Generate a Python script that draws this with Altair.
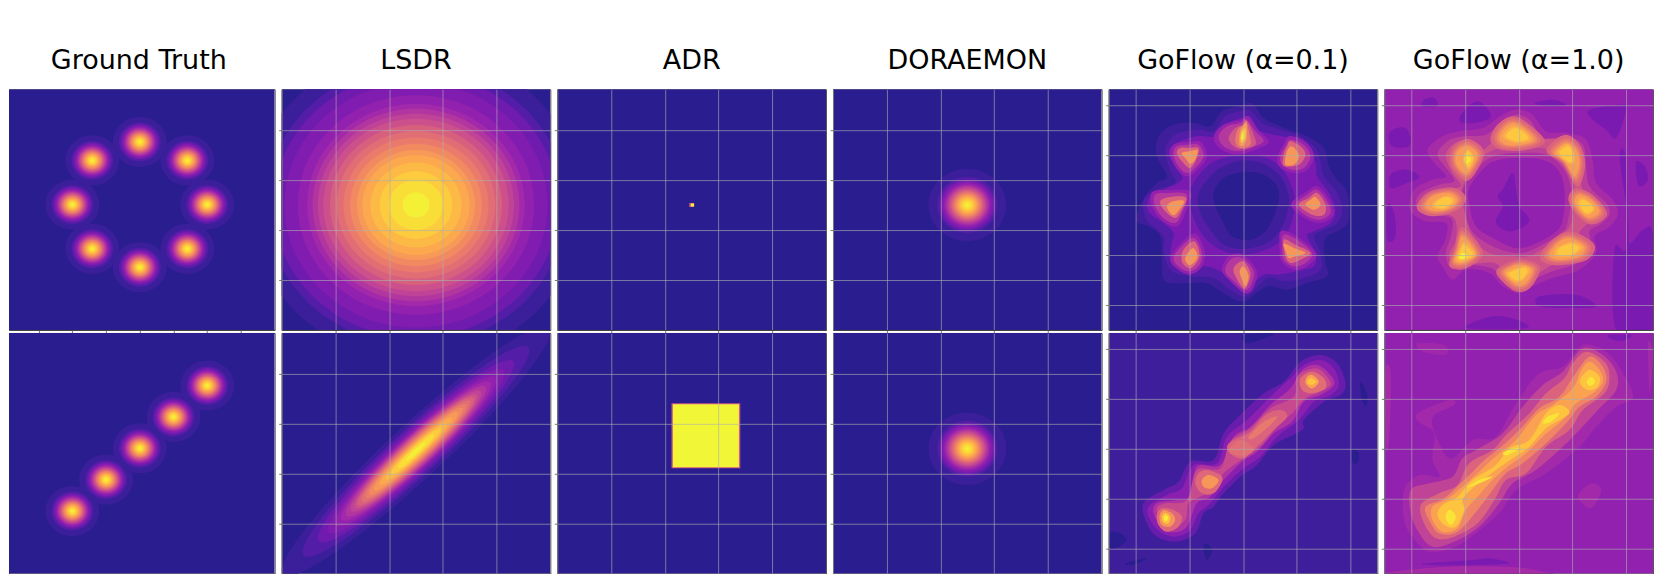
import altair as alt
import pandas as pd

TITLES = ["Ground Truth", "LSDR", "ADR", "DORAEMON", "GoFlow (α=0.1)", "GoFlow (α=1.0)"]
STOPS = ["#291d8f", "#541da7", "#7a1ab1", "#9a25ad", "#b93f9b", "#d15985",
         "#e47472", "#f3905d", "#fcaf4a", "#fcd33b", "#f1f737"]
STOP_POS = [0, .1, .2, .3, .4, .5, .6, .7, .8, .9, 1]

UNIT_RING = [(1, 0), (.924, .383), (.707, .707), (.383, .924), (0, 1), (-.383, .924), (-.707, .707), (-.924, .383),
             (-1, 0), (-.924, -.383), (-.707, -.707), (-.383, -.924), (0, -1), (.383, -.924), (.707, -.707), (.924, -.383)]

LEVELS = [.04, .1, .17, .22, .27, .32, .37, .42, .47, .53, .58, .63, .68, .73, .78, .83, .88, .93, .98]
GT_R = [.80, .62, .56, .52, .48, .45, .42, .39, .36, .33, .30, .28, .25, .22, .19, .16, .13, .09, .05]
DOR_R = [1.45, 1.12, 1.02, .95, .88, .82, .77, .71, .66, .6, .55, .5, .45, .4, .35, .29, .23, .16, .08]
LSDR_R = [6.2, 5.6, 5.3, 4.9, 4.4, 4.05, 3.85, 3.65, 3.45, 3.2, 2.95, 2.7, 2.45, 2.2, 2.0, 1.7, 1.35, 1.0, .5]
LSDR_A = [7.0, 5.9, 5.1, 4.6, 4.2, 3.9, 3.65, 3.4, 3.2, 3.05, 2.85, 2.65, 2.45, 2.2, 1.9, 1.6, 1.3, .95, .5]
LSDR_B = [1.05, .9, .8, .72, .66, .62, .58, .54, .5, .46, .42, .38, .34, .3, .26, .22, .18, .13, .07]

GT_RING = [(2, 0), (1.41, 1.41), (0, 2), (-1.41, 1.41), (-2, 0), (-1.41, -1.41), (0, -2), (1.41, -1.41)]
GT_LINE = [(-2, -2), (-1, -1), (0, 0), (1, 1), (2, 2)]

ADR_RECTS_1 = [(-.09, .09, -.08, .08, .5), (-.03, .09, -.06, .06, 1)]
ADR_RECTS_2 = [(-.75, 1.81, -.78, 1.82, .5), (-.70, 1.76, -.74, 1.78, 1)]

# GoFlow contours: 80.4 units per x unit, 75 per y unit, about the plot centre.
GF1_TOP = [
 (.05, [(435,40),(470,85),(510,105),(550,122),(600,140),(650,175),(665,230),(685,265),(720,310),(725,390),(700,420),(660,440),(650,470),(655,520),(660,560),(600,580),(540,600),(480,590),(410,635),(350,610),(300,580),(250,580),(175,575),(165,510),(160,440),(125,410),(88,390),(115,320),(150,280),(180,260),(150,200),(155,140),(200,105),(265,100),(310,110),(345,65),(395,50)]),
 (.1, [(430,62),(465,100),(520,120),(570,135),(620,170),(640,215),(650,260),(690,310),(705,360),(690,400),(650,420),(620,440),(640,490),(640,540),(590,565),(530,575),(480,565),(420,620),(370,600),(320,565),(250,560),(190,540),(170,480),(170,440),(120,390),(110,330),(150,300),(205,280),(190,240),(175,180),(205,135),(270,120),(320,125),(355,80),(400,65)]),
 (.2, [(425,85),(450,120),(500,135),(550,145),(600,170),(625,220),(630,260),(665,310),(685,360),(670,400),(620,425),(600,440),(625,490),(620,530),(570,545),(510,555),(470,555),(415,600),(380,585),(340,545),(290,530),(225,540),(190,510),(195,460),(200,430),(170,400),(125,365),(130,320),(170,300),(225,270),(210,235),(185,190),(210,160),(270,140),(330,140),(365,100),(405,85)]),
 (.11, [(410,195),(480,205),(530,245),(560,310),(560,370),(540,430),(490,475),(410,495),(340,480),(290,440),(255,370),(250,300),(300,230),(350,205)]),
 (.05, [(410,212),(470,222),(520,260),(545,320),(540,370),(520,420),(480,460),(410,478),(350,465),(310,420),(280,370),(275,310),(320,250),(360,225)]),
 (0, [(410,247),(470,255),(510,290),(515,330),(500,380),(475,425),(430,450),(375,440),(345,390),(325,350),(320,310),(350,265)]),
]

GF1_TOP_PEAKS = [
 (.38, [(420,90),(445,125),(470,155),(430,175),(390,185),(350,170),(335,140),(360,110),(400,100)]),
 (.5, [(418,92),(438,130),(445,165),(405,178),(380,170),(365,145),(385,115),(408,105)]),
 (.62, [(418,95),(428,135),(430,165),(400,175),(385,155),(392,120),(410,105)]),
 (.74, [(418,100),(420,140),(412,165),(398,165),(398,130),(408,108)]),
 (.87, [(414,115),(415,145),(405,160),(400,145),(405,125)]),
 (.98, [(412,122),(412,145),(405,150),(405,135)]),
 (.38, [(550,150),(590,165),(610,200),(590,235),(555,240),(525,225),(520,200),(535,170)]),
 (.55, [(550,155),(580,170),(595,195),(575,225),(530,228),(530,195),(540,170)]),
 (.72, [(552,170),(570,185),(575,205),(560,225),(535,225),(538,190)]),
 (.38, [(275,165),(290,200),(265,235),(240,250),(215,230),(200,195),(210,170),(245,165)]),
 (.55, [(275,175),(270,205),(250,235),(225,215),(210,190),(220,175),(248,175)]),
 (.72, [(272,182),(265,210),(250,222),(235,205),(225,190),(250,185)]),
 (.38, [(240,315),(225,370),(205,400),(170,385),(145,350),(145,315),(185,310)]),
 (.55, [(238,325),(222,365),(205,385),(175,365),(160,335),(190,322)]),
 (.72, [(232,335),(210,370),(195,375),(180,350),(200,335)]),
 (.38, [(630,300),(660,335),(670,370),(640,390),(600,380),(565,345),(600,315)]),
 (.55, [(630,310),(655,345),(650,375),(615,375),(575,345),(605,325)]),
 (.72, [(625,322),(640,345),(620,360),(595,345),(610,330)]),
 (.38, [(530,435),(570,450),(615,490),(595,520),(560,530),(530,510),(525,470)]),
 (.55, [(530,450),(565,465),(610,490),(580,510),(550,520),(535,500)]),
 (.72, [(530,462),(560,475),(595,490),(565,500),(545,505),(535,485)]),
 (.38, [(262,445),(285,490),(275,530),(245,545),(215,530),(200,505),(225,470)]),
 (.55, [(262,455),(278,495),(265,525),(245,535),(225,515),(230,480)]),
 (.72, [(258,475),(272,500),(260,520),(245,525),(235,505)]),
 (.38, [(405,505),(440,545),(430,590),(410,600),(380,575),(355,545),(370,510)]),
 (.55, [(407,515),(430,550),(420,590),(408,595),(388,565),(380,535)]),
 (.72, [(410,530),(425,560),(415,590),(405,570),(398,545)]),
]

GF2_TOP = [
 (.2, [(25,125),(70,115),(85,160),(60,175),(25,165)]),
 (.2, [(25,255),(70,240),(112,262),(60,285),(25,295)]),
 (.2, [(125,30),(155,25),(165,50),(120,50)]),
 (.2, [(235,75),(285,35),(325,75),(300,95),(240,100)]),
 (.2, [(620,60),(720,45),(730,60),(700,145),(670,120),(630,90)]),
 (.2, [(760,215),(785,230),(795,270),(770,290),(760,260)]),
 (.2, [(455,40),(510,30),(550,45),(500,50)]),
 (.2, [(470,620),(580,615),(640,650),(560,655),(470,650)]),
 (.2, [(710,200),(730,210),(730,470),(695,480),(700,720),(810,720),(810,440),(780,420),(740,460),(735,380)]),
 (.2, [(250,715),(330,680),(400,690),(430,715)]),
 (.2, [(15,345),(35,370),(40,440),(15,450)]),
 (.33, [(410,60),(450,75),(490,125),(550,130),(610,150),(630,215),(640,280),(690,330),(705,375),(675,415),(635,440),(640,490),(590,540),(510,565),(450,590),(410,612),(360,590),(320,550),(250,540),(210,570),(180,530),(165,500),(190,445),(190,400),(130,395),(82,360),(95,300),(150,270),(190,260),(155,220),(135,180),(180,140),(230,125),(300,115),(345,85),(380,65)]),
 (.4, [(410,75),(445,95),(480,145),(550,140),(600,165),(610,225),(620,290),(670,340),(680,375),(650,405),(620,425),(625,480),(585,520),(510,545),(450,570),(410,590),(365,570),(325,535),(250,525),(205,535),(190,490),(205,440),(205,385),(130,375),(100,345),(115,310),(170,285),(215,275),(195,240),(165,195),(195,155),(240,140),(310,135),(350,100),(385,80)]),
 (.48, [(410,90),(440,110),(470,145),(550,150),(590,175),(595,230),(600,300),(650,340),(660,375),(625,395),(590,430),(610,480),(570,510),(510,525),(460,555),(410,575),(370,555),(335,520),(250,525),(215,525),(200,495),(220,450),(215,385),(150,365),(115,345),(130,320),(180,300),(235,290),(210,250),(190,200),(210,165),(250,155),(290,185),(330,155),(360,105),(385,95)]),
 (.41, [(410,175),(500,180),(555,230),(575,310),(565,400),(530,440),(450,495),(390,500),(320,490),(270,440),(240,340),(240,290),(290,210),(350,175)]),
 (.34, [(410,190),(490,195),(540,235),(565,300),(555,395),(535,430),(450,480),(400,490),(330,470),(265,420),(245,340),(245,290),(300,220),(350,195)]),
 (.27, [(410,205),(480,210),(525,240),(545,300),(540,390),(515,430),(450,465),(400,475),(340,450),(280,410),(260,340),(260,295),(310,230),(350,210)]),
 (.2, [(390,250),(360,300),(345,320),(360,350),(340,400),(385,425),(440,395),(410,350),(400,300)]),
]

GF2_TOP_PEAKS = [
 (.74, [(395,100),(430,120),(455,150),(420,165),(370,165),(350,145),(365,115)]),
 (.74, [(550,160),(580,180),(590,220),(575,260),(545,215),(515,190)]),
 (.74, [(255,170),(285,195),(265,240),(245,250),(220,220),(225,185)]),
 (.74, [(200,310),(225,330),(205,355),(160,365),(130,350),(150,320)]),
 (.74, [(590,315),(625,330),(650,365),(620,385),(590,365),(575,335)]),
 (.74, [(560,445),(605,470),(590,500),(530,510),(500,495),(525,460)]),
 (.74, [(240,440),(280,490),(245,520),(215,515),(225,480)]),
 (.74, [(420,525),(450,540),(430,580),(400,585),(365,550),(390,530)]),
 (.87, [(395,115),(425,130),(435,148),(400,155),(370,140)]),
 (.87, [(555,170),(570,190),(570,215),(555,215),(530,190)]),
 (.87, [(255,185),(272,205),(258,232),(245,210)]),
 (.87, [(195,322),(210,335),(185,355),(155,348),(170,330)]),
 (.87, [(600,330),(625,345),(630,360),(610,370),(590,345)]),
 (.87, [(565,462),(590,475),(565,495),(525,495),(530,475)]),
 (.87, [(245,465),(272,495),(240,512),(225,505),(232,485)]),
 (.87, [(420,535),(435,545),(415,570),(395,570),(380,550)]),
 (.98, [(240,490),(255,498),(240,508),(228,503)]),
 (.95, [(255,195),(265,210),(252,222),(248,205)]),
]

GF1_BOT = [
 (0, [(10,600),(35,598),(60,620),(25,645),(8,640)]),
 (0, [(295,630),(315,650),(300,680),(290,650)]),
 (0, [(55,690),(120,675),(80,695)]),
 (0, [(410,5),(500,0),(470,15),(420,30)]),
 (0, [(735,350),(755,360),(750,390),(735,385)]),
 (0, [(760,145),(780,185),(775,220),(762,190)]),
 (.15, [(640,65),(690,90),(715,150),(700,185),(650,205),(590,260),(585,290),(500,335),(450,395),(400,430),(350,480),(320,520),(290,540),(265,600),(210,625),(150,610),(120,570),(110,510),(170,470),(215,445),(250,385),(320,380),(350,300),(400,245),(470,180),(530,145),(580,85)]),
 (.25, [(640,80),(680,105),(695,155),(670,185),(620,205),(575,260),(510,310),(460,370),(410,405),(350,460),(310,510),(275,540),(250,590),(205,610),(160,595),(130,560),(125,520),(180,485),(225,465),(260,395),(330,390),(360,310),(420,260),(490,190),(550,135),(590,95)]),
 (.36, [(630,95),(670,125),(680,155),(640,185),(590,205),(555,265),(500,300),(450,355),(405,385),(350,440),(310,490),(270,510),(240,580),(195,597),(165,580),(140,540),(150,510),(210,500),(250,490),(270,400),(340,395),(380,310),(430,280),(490,215),(550,165),(585,110)]),
 (.45, [(625,105),(660,130),(670,155),(640,175),(595,195),(555,240),(510,280),(460,340),(410,375),(350,420),(320,470),(280,490),(245,510),(235,560),(190,585),(160,560),(150,525),(175,510),(240,500),(270,410),(340,405),(370,325),(430,285),(490,225),(560,190),(570,130)]),
 (.58, [(615,115),(650,135),(655,165),(615,180),(585,170),(580,135)]),
 (.76, [(615,125),(635,145),(615,165),(595,150),(600,130)]),
 (.86, [(610,135),(628,145),(612,155),(600,147)]),
 (.54, [(520,230),(540,250),(500,290),(450,340),(410,375),(375,365),(360,340),(380,320),(430,295),(475,245)]),
 (.62, [(510,250),(490,275),(440,315),(425,310),(470,265)]),
 (.58, [(400,320),(440,345),(420,365),(385,365),(365,350)]),
 (.56, [(300,410),(340,425),(345,445),(320,480),(285,480),(265,450),(275,420)]),
 (.72, [(305,425),(335,440),(315,465),(290,460),(285,440)]),
 (.56, [(165,525),(200,530),(225,550),(215,580),(180,595),(155,575),(150,545)]),
 (.72, [(170,530),(195,540),(205,560),(190,580),(165,575),(158,550)]),
 (.86, [(175,538),(190,550),(185,570),(170,568),(165,550)]),
 (.98, [(175,545),(184,552),(180,562),(172,560)]),
]

GF2_BOT = [
 (.2, [(675,5),(745,5),(720,22),(690,18)]),
 (.2, [(130,690),(270,680),(320,675),(380,690),(290,695),(140,695)]),
 (.33, [(10,100),(25,120),(22,300),(12,350),(8,200)]),
 (.33, [(30,715),(200,700),(400,702),(480,715),(480,722),(30,722)]),
 (.31, [(105,30),(185,35),(190,65),(120,55)]),
 (.32, [(625,450),(655,470),(625,525),(585,490)]),
 (.32, [(795,30),(810,60),(800,180)]),
 (.32, [(600,35),(670,55),(715,110),(750,190),(700,220),(640,280),(590,340),(490,420),(400,470),(350,540),(280,600),(220,640),(140,655),(90,610),(65,560),(65,470),(110,425),(170,430),(150,380),(155,300),(115,270),(105,240),(200,200),(215,215),(150,255),(175,340),(210,375),(270,320),(340,310),(400,210),(470,120),(540,100)]),
 (.42, [(600,45),(660,65),(700,115),(700,170),(650,225),(590,290),(540,340),(460,410),(390,450),(350,510),(290,580),(215,625),(150,640),(110,600),(85,540),(85,470),(140,450),(210,430),(240,375),(290,345),(360,300),(420,220),(480,155),(540,115)]),
 (.54, [(610,55),(665,85),(680,130),(665,180),(600,230),(560,290),(490,340),(430,420),(370,440),(335,500),(285,570),(215,610),(160,615),(125,570),(115,515),(170,480),(225,455),(260,390),(330,350),(370,305),(440,240),(490,180),(545,135),(570,90)]),
 (.66, [(620,70),(660,100),(670,145),(640,190),(590,220),(550,270),(490,330),(420,390),(370,420),(330,470),(285,530),(225,595),(170,600),(140,560),(130,520),(185,495),(250,435),(300,385),(350,345),(410,290),(470,225),(530,190),(575,125)]),
 (.76, [(620,85),(650,110),(660,145),(630,180),(580,210),(545,255),(480,310),(430,360),(375,400),(330,440),(285,490),(250,530),(225,585),(180,595),(150,560),(150,520),(190,500),(240,460),(290,415),(350,360),(400,320),(460,245),(510,215),(570,165),(595,110)]),
 (.86, [(625,110),(650,130),(645,160),(615,170),(590,145),(610,115)]),
 (.86, [(560,235),(540,255),(490,285),(440,340),(390,375),(340,410),(270,465),(240,500),(245,530),(220,580),(185,575),(165,545),(180,515),(225,490),(270,440),(340,395),(380,345),(440,320),(490,240),(530,215)]),
 (.95, [(625,130),(637,145),(622,158),(612,145)]),
 (.95, [(530,240),(505,265),(480,270),(495,250)]),
 (.95, [(410,345),(375,365),(360,360),(385,347)]),
 (.95, [(330,430),(290,450),(255,462),(290,440)]),
 (.95, [(205,530),(220,550),(205,575),(190,555),(195,535)]),
]


def rings(centers, levels, rad):
    out = []
    for i, lv in enumerate(levels):
        for cx, cy in centers:
            out.append((lv, [(cx + rad[i] * u, cy + rad[i] * v) for u, v in UNIT_RING]))
    return out


def diagonal(levels, a, b, cx, cy):
    out = []
    for i, lv in enumerate(levels):
        out.append((lv, [(cx + (a[i] * u - b[i] * v) * .7071, cy + (a[i] * u + b[i] * v) * .7071) for u, v in UNIT_RING]))
    return out


def halo(shapes, source_level, level, factor):
    """A wider band round each digitised peak of a given level."""
    out = []
    for lv, pts in shapes:
        if lv == source_level:
            mx = sum(p[0] for p in pts) / len(pts)
            my = sum(p[1] for p in pts) / len(pts)
            out.append((level, [(mx + (px - mx) * factor, my + (py - my) * factor) for px, py in pts]))
    return out


def digitised(shapes):
    return [(lv, [((px - 408) / 80.4, (346 - py) / 75) for px, py in pts]) for lv, pts in shapes]


def frame(shapes):
    rows = []
    for s, (lv, pts) in enumerate(shapes):
        for p, (x, y) in enumerate(pts):
            rows.append({"x": round(x, 3), "y": round(y, 3), "level": lv, "shape": s, "pt": p})
    return pd.DataFrame(rows)


def panel(xdom, ticks_x, ticks_y, bg, shapes=None, rects=None, title=None, grid=True, width=269, left_axis=True, dx=0):
    fill = alt.Fill("level:Q", scale=alt.Scale(domain=STOP_POS, range=STOPS), legend=None)
    ax_x = alt.Axis(values=ticks_x, labels=False, title=None, grid=grid, zindex=1, tickSize=3, tickColor="#777",
                    domainColor="#444", gridColor="#b0b0b0", gridOpacity=.62, gridWidth=1)
    if left_axis:
        ax_y = alt.Axis(values=ticks_y, labels=False, title=None, grid=grid, zindex=1, tickSize=3, tickColor="#777",
                        domainColor="#777", gridColor="#b0b0b0", gridOpacity=.62, gridWidth=1)
    else:
        ax_y = alt.Axis(values=ticks_y, labels=False, title=None, grid=grid, zindex=1, ticks=False, domain=False,
                        gridColor="#b0b0b0", gridOpacity=.62, gridWidth=1)
    X = alt.X("x:Q", scale=alt.Scale(domain=xdom, nice=False, zero=False), axis=ax_x)
    ydom = [-5.0, 4.63] if grid else [-4.0, 3.68]
    Y = alt.Y("y:Q", scale=alt.Scale(domain=ydom, nice=False, zero=False), axis=ax_y)
    all_rects = [(xdom[0], xdom[1], ydom[0], ydom[1], bg)] + (rects or [])
    rdf = pd.DataFrame(all_rects, columns=["x", "x2", "y", "y2", "level"])
    layers = [alt.Chart(rdf).mark_rect(clip=True).encode(x=X, x2="x2:Q", y=Y, y2="y2:Q", fill=fill)]
    if shapes:
        layers.append(
            alt.Chart(frame(shapes)).mark_line(interpolate="cardinal-closed", clip=True, strokeWidth=0, fill="#000")
            .encode(x=X, y=Y, fill=fill, detail="shape:N", order="pt:Q")
        )
    props = dict(width=width, height=241)
    if title:
        props["title"] = alt.TitleParams(title, fontSize=27, font="DejaVu Sans", fontWeight="normal", color="#000",
                                         offset=20, dy=27, dx=dx, baseline="alphabetic", anchor="middle")
    return alt.layer(*layers).properties(**props)


X_IN = [-3, -1, 1, 3]
Y_IN = [-3, -1, 1, 3]
GT_T = [-3, -2, -1, 0, 1, 2, 3]
GF_T = [-4, -2, 0, 2, 4]

GF1_TOP_ALL = GF1_TOP + halo(GF1_TOP_PEAKS, .38, .28, 1.22) + GF1_TOP_PEAKS
GF2_TOP_ALL = (GF2_TOP + halo(GF2_TOP_PEAKS, .74, .54, 1.55) + halo(GF2_TOP_PEAKS, .74, .6, 1.32)
               + halo(GF2_TOP_PEAKS, .74, .67, 1.15) + GF2_TOP_PEAKS[:8]
               + halo(GF2_TOP_PEAKS, .87, .8, 1.28) + GF2_TOP_PEAKS[8:])

panels = [
    panel([-3.88, 4], GT_T, GT_T, 0, rings(GT_RING, LEVELS, GT_R), title=TITLES[0], grid=False, width=266, left_axis=False, dx=-3),
    panel([-5, 5], X_IN, Y_IN, 0, rings([(0, 0)], LEVELS, LSDR_R), title=TITLES[1]),
    panel([-5, 5], X_IN, Y_IN, 0, rects=ADR_RECTS_1, title=TITLES[2]),
    panel([-5, 5], X_IN, Y_IN, 0, rings([(0, 0)], LEVELS, DOR_R), title=TITLES[3]),
    panel([-5, 5], GF_T, GF_T, 0, digitised(GF1_TOP_ALL), title=TITLES[4]),
    panel([-5, 5], GF_T, GF_T, .27, digitised(GF2_TOP_ALL), title=TITLES[5]),
    panel([-3.88, 4], GT_T, GT_T, 0, rings(GT_LINE, LEVELS, GT_R), grid=False, width=266, left_axis=False),
    panel([-5, 5], X_IN, Y_IN, 0, diagonal(LEVELS, LSDR_A, LSDR_B, 0, -.1)),
    panel([-5, 5], X_IN, Y_IN, 0, rects=ADR_RECTS_2),
    panel([-5, 5], X_IN, Y_IN, 0, rings([(0, 0)], LEVELS, DOR_R)),
    panel([-5, 5], GF_T, GF_T, .05, digitised(GF1_BOT)),
    panel([-5, 5], GF_T, GF_T, .27, digitised(GF2_BOT)),
]

chart = (
    alt.concat(*panels, columns=6, spacing={"row": 3, "column": 7}, bounds="flush")
    .properties(padding={"left": 0, "top": 38, "right": 0, "bottom": 0})
    .configure_view(stroke="#555", strokeWidth=1)
)
chart.save("out.html", embed_options={"renderer": "svg", "actions": False})
